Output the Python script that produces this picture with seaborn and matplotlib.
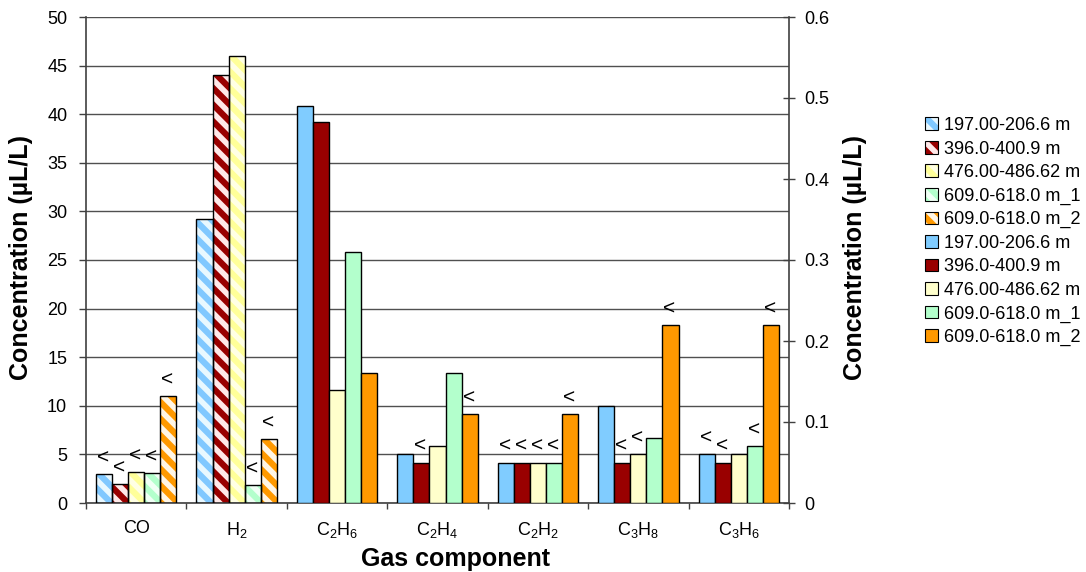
import matplotlib

matplotlib.use("Agg")
import matplotlib.pyplot as plt
import pandas as pd
import seaborn as sns
from matplotlib.patches import Patch, Rectangle

# depth intervals (hue)
series = [
    "197.00-206.6 m",
    "396.0-400.9 m",
    "476.00-486.62 m",
    "609.0-618.0 m_1",
    "609.0-618.0 m_2",
]

gases = ["CO", "H2", "C2H6", "C2H4", "C2H2", "C3H8", "C3H6"]
gas_labels = ["CO", "H$_2$", "C$_2$H$_6$", "C$_2$H$_4$", "C$_2$H$_2$", "C$_3$H$_8$", "C$_3$H$_6$"]

# left axis (µL/L, 0-50)
co = [3.0, 2.0, 3.2, 3.1, 11.0]
h2 = [29.2, 44.0, 46.0, 1.9, 6.6]

# right axis (µL/L, 0-0.6)
c2h6 = [0.49, 0.47, 0.14, 0.31, 0.16]
c2h4 = [0.06, 0.05, 0.07, 0.16, 0.11]
c2h2 = [0.05, 0.05, 0.05, 0.05, 0.11]
c3h8 = [0.12, 0.05, 0.06, 0.08, 0.22]
c3h6 = [0.06, 0.05, 0.06, 0.07, 0.22]

# "<" = below detection limit
below = {
    "CO": [1, 1, 1, 1, 1],
    "H2": [0, 0, 0, 1, 1],
    "C2H6": [0, 0, 0, 0, 0],
    "C2H4": [0, 1, 0, 0, 1],
    "C2H2": [1, 1, 1, 1, 1],
    "C3H8": [0, 1, 1, 0, 1],
    "C3H6": [1, 1, 0, 1, 1],
}

hatch_face = ["#80C8FF", "#990000", "#FFFF99", "#B3FFCC", "#FF9900"]
hatch_stripe = ["#E8F8FF", "#FFE8E8", "#FFFFE4", "#F0FFF5", "#FFF6E6"]
solid_face = ["#80CCFF", "#990000", "#FFFFCC", "#B3FFCC", "#FF9900"]


def long_frame(names, columns):
    rows = []
    for g, vals in zip(names, columns):
        for s, v in zip(series, vals):
            rows.append({"gas": g, "series": s, "value": v})
    return pd.DataFrame(rows)


df_left = long_frame(["CO", "H2"], [co, h2])
df_right = long_frame(["C2H6", "C2H4", "C2H2", "C3H8", "C3H6"], [c2h6, c2h4, c2h2, c3h8, c3h6])

sns.set_style("white")
plt.rcParams["font.family"] = ["Liberation Sans", "DejaVu Sans"]
plt.rcParams["mathtext.default"] = "regular"
plt.rcParams["hatch.linewidth"] = 4
plt.rcParams["text.color"] = "black"
plt.rcParams["axes.labelcolor"] = "black"
plt.rcParams["xtick.labelcolor"] = "black"
plt.rcParams["ytick.labelcolor"] = "black"

fig = plt.figure(figsize=(10.86, 5.72), dpi=100)
ax = fig.add_axes([86 / 1086, 69 / 572, 703 / 1086, 486 / 572])
ax2 = ax.twinx()

sns.barplot(
    data=df_left, x="gas", y="value", hue="series", order=gases, hue_order=series,
    palette=hatch_face, saturation=1, errorbar=None, legend=False, ax=ax,
)
sns.barplot(
    data=df_right, x="gas", y="value", hue="series", order=gases, hue_order=series,
    palette=solid_face, saturation=1, errorbar=None, legend=False, ax=ax2,
    edgecolor="black", linewidth=1,
)

# hatched bars with black outline
for i, cont in enumerate(ax.containers):
    for bar in cont:
        bar.set_hatch("\\\\")
        bar.set_edgecolor(hatch_stripe[i])
        bar.set_linewidth(0)
        ax.add_patch(Rectangle(bar.get_xy(), bar.get_width(), bar.get_height(),
                               fill=False, edgecolor="black", linewidth=1, zorder=3))


def mark_below(axis):
    for i, cont in enumerate(axis.containers):
        for bar in cont:
            cx = bar.get_x() + bar.get_width() / 2
            g = gases[int(round(cx))]
            if below[g][i]:
                axis.annotate("<", xy=(cx, bar.get_height()), xytext=(-1, 16),
                              textcoords="offset pixels", ha="center", va="center",
                              fontsize=15, color="black")


mark_below(ax)
mark_below(ax2)

ax.set_ylim(0, 50)
ax2.set_ylim(0, 0.6)
ax.set_yticks(range(0, 51, 5))
ax2.set_yticks([0, 0.1, 0.2, 0.3, 0.4, 0.5, 0.6])
ax2.set_yticklabels(["0", "0.1", "0.2", "0.3", "0.4", "0.5", "0.6"])

ax.set_xlim(-0.5, 6.5)
ax.set_xticks(range(7))
ax.set_xticklabels(gas_labels)
ax.set_xticks([i + 0.5 for i in range(-1, 7)], minor=True)
ax.tick_params(axis="x", which="major", length=0, pad=12, labelsize=13, labelcolor="black")
ax.tick_params(axis="x", which="minor", bottom=True, length=4, width=1, direction="out", color="#404040")
ax.tick_params(axis="y", left=True, length=5, width=1, direction="out", pad=8.5, labelsize=13,
               color="#404040", labelcolor="black")
ax2.tick_params(axis="y", right=True, length=9, width=1, direction="inout", pad=6.5, labelsize=13,
                color="#404040", labelcolor="black")

ax.set_axisbelow(True)
ax.yaxis.grid(True, color="#505050", linewidth=1)
ax.xaxis.grid(False)

for sp in ["top", "right"]:
    ax.spines[sp].set_visible(False)
for sp in ["top", "left", "bottom"]:
    ax2.spines[sp].set_visible(False)
for a, sp in [(ax, "left"), (ax, "bottom"), (ax2, "right")]:
    a.spines[sp].set_color("#404040")
    a.spines[sp].set_linewidth(1.2)

ax.set_xlabel("Gas component", fontsize=18, fontweight="bold", va="center", color="black")
ax.xaxis.set_label_coords(0.526, -0.115)
ax.set_ylabel("Concentration (µL/L)", fontsize=18, fontweight="bold", va="center", color="black")
ax.yaxis.set_label_coords(-0.092, 0.505)
ax2.set_ylabel("Concentration (µL/L)", fontsize=18, fontweight="bold", va="center", color="black")
ax2.yaxis.set_label_coords(1.094, 0.505)

handles = []
for i in range(5):
    handles.append((
        Patch(facecolor=hatch_face[i], edgecolor=hatch_stripe[i], hatch="\\\\", linewidth=0),
        Patch(facecolor="none", edgecolor="black", linewidth=0.8),
    ))
for i in range(5):
    handles.append(Patch(facecolor=solid_face[i], edgecolor="black", linewidth=0.8))

fig.legend(handles, series + series, loc="upper left",
           bbox_to_anchor=(925 / 1086, 1 - 117 / 572), frameon=False, fontsize=13,
           handlelength=0.7, handleheight=0.7, handletextpad=0.35, labelspacing=0.36,
           borderpad=0, borderaxespad=0, labelcolor="black")

fig.savefig("out.png", dpi=100)
